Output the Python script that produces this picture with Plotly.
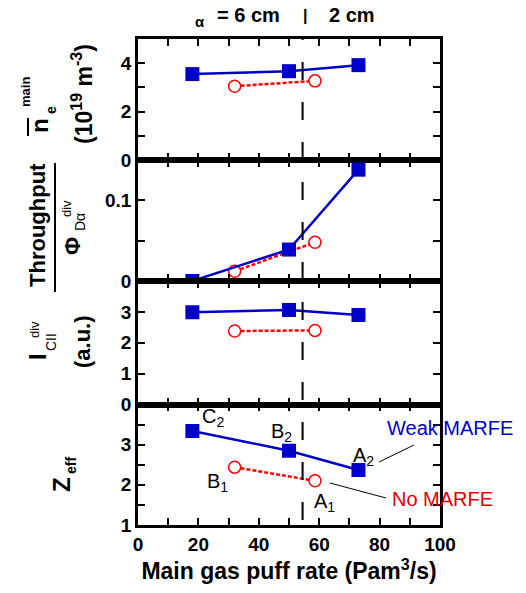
import plotly.graph_objects as go
from plotly.subplots import make_subplots

# ---------------- data ----------------
weak_x = [18, 50, 73]
none_x = [32, 58.6]

ne_weak = [3.55, 3.67, 3.92]
ne_none = [3.05, 3.27]

thr_weak = [0.0, 0.039, 0.138]
thr_none = [0.012, 0.048]

cii_weak = [2.99, 3.06, 2.9]
cii_none = [2.38, 2.4]

zeff_weak = [3.34, 2.85, 2.37]
zeff_none = [2.44, 2.1]

boundary_x = 54.5
x_tickvals = [0, 20, 40, 60, 80, 100]

# ---------------- geometry helpers ----------------
W, H = 526, 593
ML, MR, MT, MB = 138, 86, 39, 68
PW, PH = W - ML - MR, H - MT - MB


def px(x):
    return (x - ML) / PW


def py(y):
    return (H - MB - y) / PH


FONT = "Liberation Sans, Arial, sans-serif"
BLUE = "#0000c8"
RED = "#ff0000"

fig = make_subplots(rows=4, cols=1, shared_xaxes=False, vertical_spacing=0)

# (weak, none, range, labelled ticks, minor step)
panels = [
    (ne_weak, ne_none, [0, 5], [0, 2, 4], 1),
    (thr_weak, thr_none, [0, 0.15], [0, 0.1], 0.05),
    (cii_weak, cii_none, [0, 4], [0, 1, 2, 3], 1),
    (zeff_weak, zeff_none, [1, 4], [1, 2, 3], 0.5),
]

bounds = [39, 160, 281, 404.5, 525]
tickstyle = dict(ticks="inside", ticklen=7, tickwidth=1.5, tickcolor="black")

for i, (wv, nv, rng, tv, mstep) in enumerate(panels):
    r = i + 1
    fig.add_trace(go.Scatter(x=none_x, y=nv, mode="lines+markers",
                             line=dict(color=RED, width=2.5, dash="4px,2px"),
                             marker=dict(symbol="circle", size=12, color="white",
                                         line=dict(width=1.5, color=RED)),
                             showlegend=False), row=r, col=1)
    fig.add_trace(go.Scatter(x=weak_x, y=wv, mode="lines+markers",
                             line=dict(color=BLUE, width=2.5),
                             marker=dict(symbol="square", size=14, color=BLUE),
                             showlegend=False), row=r, col=1)
    yname = "yaxis" if r == 1 else f"yaxis{r}"
    xname = "xaxis" if r == 1 else f"xaxis{r}"
    fig.layout[yname].update(
        domain=[py(bounds[i + 1]), py(bounds[i])],
        range=rng, tickvals=tv, **tickstyle,
        minor=dict(tick0=rng[0], dtick=mstep, **tickstyle),
        showline=True, linecolor="black", linewidth=2.5, mirror="ticks",
        showgrid=False, zeroline=False,
        tickfont=dict(family=FONT, size=19, color="black", weight="bold"),
    )
    fig.layout[xname].update(
        range=[0, 100], tickvals=x_tickvals, **tickstyle,
        minor=dict(tick0=0, dtick=10, **tickstyle),
        showticklabels=(r == 4),
        showline=True, linecolor="black", linewidth=2.5, mirror="ticks",
        showgrid=False, zeroline=False,
        tickfont=dict(family=FONT, size=19, color="black", weight="bold"),
    )

fig.layout.xaxis4.title = dict(text="Main gas puff rate (Pam<sup>3</sup>/s)",
                               font=dict(family=FONT, size=23, color="black", weight="bold"),
                               standoff=10)

ann = []


def a(text, x, y, size=19, bold=True, color="black", angle=0, xanchor="center", yanchor="middle"):
    ann.append(dict(text=text, x=px(x), y=py(y), xref="paper", yref="paper",
                    showarrow=False, textangle=angle, xanchor=xanchor, yanchor=yanchor,
                    font=dict(family=FONT, size=size, color=color,
                              weight="bold" if bold else "normal")))


# header
a("α", 200, 22, size=15)
a("= 6 cm", 248, 15, size=20)
a("|", 305, 15, size=16)
a("2 cm", 352, 15, size=20)

# panel 1 y title
a("n", 39, 126, size=24, angle=-90)
a("e", 51, 110, size=14, angle=-90)
a("main", 25, 92, size=13, angle=-90)
a("(10<sup>19</sup> m<sup>-3</sup>)", 82, 94, size=23, angle=-90)

# panel 2 y title (fraction)
a("Throughput", 37, 225, size=22, angle=-90)
a("Φ", 72, 246, size=22, angle=-90, bold=True)
a("Dα", 80, 222, size=14, angle=-90, bold=False)
a("div", 67, 209, size=13, angle=-90, bold=False)

# panel 3 y title
a("I", 37, 357, size=24, angle=-90)
a("CII", 51, 342, size=14, angle=-90, bold=False)
a("div", 34, 330, size=13, angle=-90, bold=False)
a("(a.u.)", 82, 342, size=22, angle=-90)

# panel 4 y title
a("Z", 61, 484, size=24, angle=-90)
a("eff", 71, 466, size=14, angle=-90)

# point labels
a("C<sub>2</sub>", 213, 417, size=20, bold=False)
a("B<sub>2</sub>", 281, 432, size=20, bold=False)
a("A<sub>2</sub>", 363, 456, size=20, bold=False)
a("B<sub>1</sub>", 217, 482, size=20, bold=False)
a("A<sub>1</sub>", 324, 502, size=20, bold=False)
a("Weak MARFE", 450, 428, size=20, bold=False, color=BLUE)
a("No MARFE", 442, 499, size=20, bold=False, color="#e00000")

fig.update_layout(annotations=ann)

shapes = [
    # boundary dashed line
    dict(type="line", xref="x", yref="paper", x0=boundary_x, x1=boundary_x,
         y0=py(520), y1=py(39), line=dict(color="black", width=2, dash="18px,22px")),
    # fraction bar
    dict(type="line", xref="paper", yref="paper", x0=px(55), x1=px(55),
         y0=py(292), y1=py(163), line=dict(color="black", width=2)),
    # overline on n
    dict(type="line", xref="paper", yref="paper", x0=px(28), x1=px(28),
         y0=py(136), y1=py(118), line=dict(color="black", width=2)),
    # leader lines
    dict(type="line", xref="paper", yref="paper", x0=px(379), x1=px(414),
         y0=py(462), y1=py(445), line=dict(color="black", width=1)),
    dict(type="line", xref="paper", yref="paper", x0=px(330), x1=px(386),
         y0=py(483), y1=py(498), line=dict(color="black", width=1)),
]
fig.update_layout(shapes=shapes)

fig.update_layout(width=W, height=H, margin=dict(l=ML, r=MR, t=MT, b=MB, pad=0),
                  paper_bgcolor="white", plot_bgcolor="white",
                  font=dict(family=FONT, color="black"))

fig.write_html("out.html")
